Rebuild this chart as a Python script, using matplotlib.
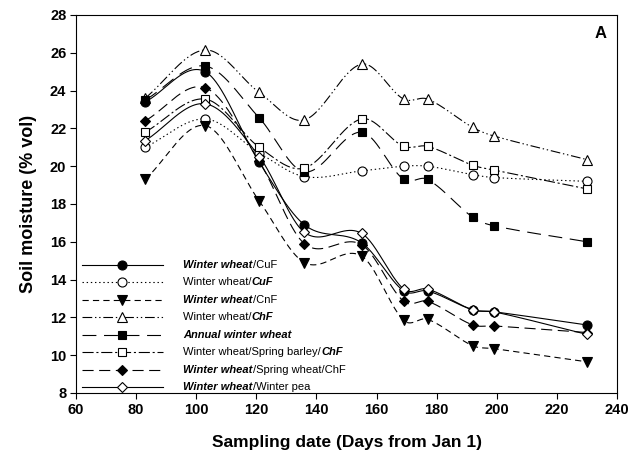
import numpy as np
import matplotlib
matplotlib.use("Agg")
import matplotlib.pyplot as plt
from matplotlib.lines import Line2D
from matplotlib.offsetbox import DrawingArea, TextArea, HPacker, VPacker, AnchoredOffsetbox
from matplotlib.font_manager import FontProperties

plt.rcParams['font.family'] = ['Liberation Sans', 'DejaVu Sans']
plt.rcParams['lines.scale_dashes'] = False

# ---------------- data ----------------
days = [83, 103, 121, 136, 155, 169, 177, 192, 199, 230]

ww_cuf_a = [23.4, 25.0, 20.2, 16.9, 15.95, 13.4, 13.4, 12.4, 12.3, 11.6]
ww_cuf_b = [21.0, 22.5, 20.7, 19.45, 19.75, 20.0, 20.0, 19.55, 19.4, 19.2]
ww_cnf = [19.3, 22.15, 18.15, 14.9, 15.25, 11.85, 11.9, 10.5, 10.35, 9.65]
ww_chf = [23.6, 26.15, 23.9, 22.45, 25.4, 23.55, 23.55, 22.05, 21.6, 20.35]
annual_ww = [23.5, 25.3, 22.55, 19.7, 21.8, 19.3, 19.3, 17.3, 16.85, 16.0]
ww_sb_chf = [21.8, 23.55, 21.0, 19.9, 22.5, 21.05, 21.05, 20.05, 19.8, 18.8]
ww_sw_chf = [22.4, 24.15, 20.25, 15.9, 15.85, 12.85, 12.85, 11.6, 11.55, 11.2]
ww_pea = [21.35, 23.3, 20.5, 16.5, 16.45, 13.5, 13.5, 12.4, 12.3, 11.1]

# label pieces: (text, bold-italic?)
labels = [
    [("Winter wheat", True), ("/CuF", False)],
    [("Winter wheat/", False), ("CuF", True)],
    [("Winter wheat", True), ("/CnF", False)],
    [("Winter wheat/", False), ("ChF", True)],
    [("Annual winter wheat", True)],
    [("Winter wheat/Spring barley/", False), ("ChF", True)],
    [("Winter wheat", True), ("/Spring wheat/ChF", False)],
    [("Winter wheat", True), ("/Winter pea", False)],
]

xticks = [60, 80, 100, 120, 140, 160, 180, 200, 220, 240]
yticks = [8, 10, 12, 14, 16, 18, 20, 22, 24, 26, 28]

series = [ww_cuf_a, ww_cuf_b, ww_cnf, ww_chf, annual_ww, ww_sb_chf, ww_sw_chf, ww_pea]
styles = [
    dict(marker='o', mfc='black', ls='-', ms=6.5),
    dict(marker='o', mfc='white', ls=(0, (1.0, 2.0)), ms=6.5),
    dict(marker='v', mfc='black', ls=(0, (4.5, 3.0)), ms=7),
    dict(marker='^', mfc='white', ls=(0, (7, 2, 1, 2, 1, 2)), ms=7),
    dict(marker='s', mfc='black', ls=(0, (10, 5.5)), ms=6),
    dict(marker='s', mfc='white', ls=(0, (8, 2, 1.5, 2)), ms=6),
    dict(marker='D', mfc='black', ls=(0, (8, 4)), ms=5.5),
    dict(marker='D', mfc='white', ls='-', ms=5.5),
]


def smooth_curve(x, y, xs):
    """Cubic Hermite curve with Catmull-Rom style tangents (rendering only)."""
    x = np.asarray(x, float)
    y = np.asarray(y, float)
    n = len(x)
    m = np.zeros(n)
    m[0] = (y[1] - y[0]) / (x[1] - x[0])
    m[-1] = (y[-1] - y[-2]) / (x[-1] - x[-2])
    for i in range(1, n - 1):
        m[i] = (y[i + 1] - y[i - 1]) / (x[i + 1] - x[i - 1])
    idx = np.clip(np.searchsorted(x, xs) - 1, 0, n - 2)
    h = x[idx + 1] - x[idx]
    t = (xs - x[idx]) / h
    h00 = 2 * t ** 3 - 3 * t ** 2 + 1
    h10 = t ** 3 - 2 * t ** 2 + t
    h01 = -2 * t ** 3 + 3 * t ** 2
    h11 = t ** 3 - t ** 2
    return h00 * y[idx] + h10 * h * m[idx] + h01 * y[idx + 1] + h11 * h * m[idx + 1]


fig = plt.figure(figsize=(6.39, 4.57), dpi=100)
ax = fig.add_axes([76 / 639, 1 - 393 / 457, (617 - 76) / 639, (393 - 15) / 457])

xs = np.linspace(days[0], days[-1], 800)
lw = 0.8
for vals, st in zip(series, styles):
    ys = smooth_curve(days, vals, xs)
    ax.plot(xs, ys, color='black', lw=lw, ls=st['ls'], zorder=2)
    ax.plot(days, vals, ls='none', marker=st['marker'], ms=st['ms'], mfc=st['mfc'],
            mec='black', mew=0.8, zorder=3)

ax.set_xlim(60, 240)
ax.set_ylim(8, 28)
ax.set_xticks(xticks)
ax.set_yticks(yticks)
ax.tick_params(direction='out', length=4, width=0.8, labelsize=10.5, pad=3)
for lab in ax.get_xticklabels() + ax.get_yticklabels():
    lab.set_fontweight('bold')
for s in ax.spines.values():
    s.set_linewidth(0.8)
ax.set_xlabel('Sampling date (Days from Jan 1)', fontsize=12.5, fontweight='bold', labelpad=13)
ax.set_ylabel('Soil moisture (% vol)', fontsize=13, fontweight='bold', labelpad=9)
ax.text(0.969, 0.952, 'A', transform=ax.transAxes, ha='center', va='center',
        fontsize=12, fontweight='bold')

# ---------------- custom legend ----------------
fp_norm = FontProperties(family='Liberation Sans', size=8)
fp_bi = FontProperties(family='Liberation Sans', size=8, weight='bold', style='italic')
rows = []
dw, dh = 58, 12.6
for lab, st in zip(labels, styles):
    da = DrawingArea(dw, dh, 0, 0)
    da.add_artist(Line2D([0, dw], [dh / 2, dh / 2], color='black', lw=lw, ls=st['ls']))
    da.add_artist(Line2D([dw / 2], [dh / 2], ls='none', marker=st['marker'], ms=st['ms'],
                         mfc=st['mfc'], mec='black', mew=0.8))
    pieces = [TextArea(t, textprops=dict(fontproperties=(fp_bi if b else fp_norm), color='black'))
              for t, b in lab]
    txt = HPacker(children=pieces, sep=0, pad=0, align='baseline')
    rows.append(HPacker(children=[da, txt], sep=15, pad=0, align='center'))
box = VPacker(children=rows, sep=0, pad=0, align='left')
anch = AnchoredOffsetbox(loc='lower left', child=box, pad=0, borderpad=0, frameon=False,
                         bbox_to_anchor=(82 / 639, 1 - 396 / 457), bbox_transform=fig.transFigure)
ax.add_artist(anch)

fig.savefig('out.png', dpi=100)
